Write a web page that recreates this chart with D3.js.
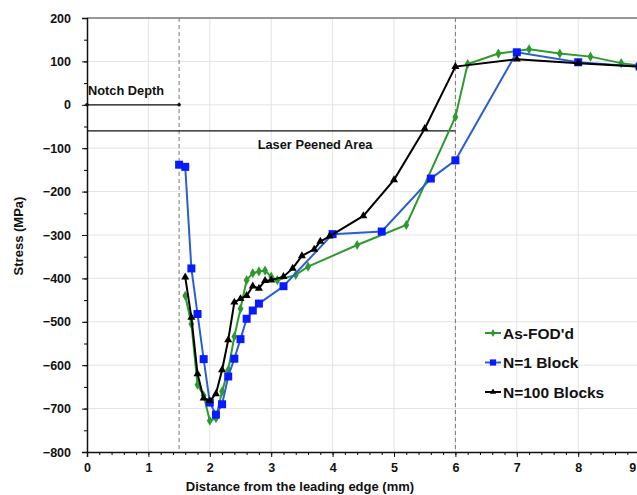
<!DOCTYPE html>
<html>
<head>
<meta charset="utf-8">
<script src="https://cdn.jsdelivr.net/npm/d3@7"></script>
<style>
  body { margin: 0; background: #fff; }
  svg { font-family: "Liberation Sans", Arial, sans-serif; }
</style>
</head>
<body>
<svg id="chart" width="637" height="495"></svg>
<script>
// data
var asFodX = [1.6, 1.7, 1.8, 1.9, 2.0, 2.1, 2.2, 2.3, 2.4, 2.5, 2.6, 2.7, 2.8, 2.9, 3.0, 3.1, 3.4, 3.6, 4.4, 5.2, 6.0, 6.2, 6.7, 7.2, 7.7, 8.2, 8.7, 9.0];
var asFodY = [-440, -505, -645, -670, -728, -722, -660, -611, -534, -470, -404, -388, -384, -382, -396, -404, -392, -373, -323, -277, -28, 94, 118, 128, 118, 111, 96, 90];

var n1X = [1.5, 1.6, 1.7, 1.8, 1.9, 2.0, 2.1, 2.2, 2.3, 2.4, 2.5, 2.6, 2.7, 2.8, 3.2, 4.0, 4.8, 5.6, 6.0, 7.0, 8.0, 9.0];
var n1Y = [-138, -143, -377, -482, -586, -686, -714, -690, -626, -585, -540, -493, -474, -458, -418, -298, -292, -170, -128, 121, 98, 88];

var n100X = [1.6, 1.7, 1.8, 1.9, 2.0, 2.1, 2.2, 2.3, 2.4, 2.5, 2.6, 2.7, 2.8, 2.9, 3.0, 3.2, 3.35, 3.5, 3.7, 3.8, 3.95, 4.5, 5.0, 5.5, 6.0, 7.0, 8.0, 9.0];
var n100Y = [-397, -490, -620, -676, -682, -666, -611, -542, -455, -447, -440, -418, -423, -405, -404, -396, -377, -348, -333, -315, -303, -256, -173, -55, 88, 105, 96, 88];

var xTicks = [0, 1, 2, 3, 4, 5, 6, 7, 8, 9];
var yTicks = [-800, -700, -600, -500, -400, -300, -200, -100, 0, 100, 200];

var svg = d3.select("#chart"),
    margin = {top: 18, left: 87},
    width = 552.6,
    height = 434,
    g = svg.append("g").attr("transform", "translate(" + margin.left + "," + margin.top + ")");

var x = d3.scaleLinear().domain([0, 9]).range([0, width]),
    y = d3.scaleLinear().domain([-800, 200]).range([height, 0]);

// grid
g.append("g").selectAll("line.gx")
    .data(xTicks.slice(1))
  .enter().append("line")
    .attr("x1", d => x(d)).attr("x2", d => x(d))
    .attr("y1", 0).attr("y2", height)
    .attr("stroke", "#e3e3e3");
g.append("g").selectAll("line.gy")
    .data(yTicks.slice(1, -1))
  .enter().append("line")
    .attr("x1", 0).attr("x2", width)
    .attr("y1", d => y(d)).attr("y2", d => y(d))
    .attr("stroke", "#e3e3e3");

// top border
g.append("line")
    .attr("x1", 0).attr("x2", width)
    .attr("y1", 0).attr("y2", 0)
    .attr("stroke", "#333").attr("stroke-width", 1.2);

// dashed verticals at notch depth and peened area edge
[1.5, 6].forEach(function(v) {
  g.append("line")
      .attr("x1", x(v)).attr("x2", x(v))
      .attr("y1", 0).attr("y2", height)
      .attr("stroke", "#777")
      .attr("stroke-dasharray", "4,3");
});

// minor ticks
g.append("g")
    .attr("transform", "translate(0," + height + ")")
    .call(d3.axisBottom(x).ticks(45).tickSize(3).tickFormat(""))
    .call(s => s.select(".domain").remove());
g.append("g")
    .call(d3.axisLeft(y).ticks(20).tickSize(3).tickFormat(""))
    .call(s => s.select(".domain").remove());

// axes
var xAxis = g.append("g")
    .attr("transform", "translate(0," + height + ")")
    .call(d3.axisBottom(x).tickValues(xTicks).tickSize(5).tickPadding(6).tickFormat(d3.format("d")));
var yAxis = g.append("g")
    .call(d3.axisLeft(y).tickValues(yTicks).tickSize(5).tickPadding(11));

[xAxis, yAxis].forEach(function(a) {
  a.selectAll("text")
      .style("font-size", "12.5px")
      .style("font-weight", "bold")
      .attr("fill", "#111");
  a.select(".domain").attr("stroke", "#111").attr("stroke-width", 1.5);
  a.selectAll(".tick line").attr("stroke", "#111");
});
// last label sits at the right edge, nudge it inside
xAxis.selectAll(".tick").filter(d => d === 9).select("text")
    .attr("text-anchor", "end").attr("dx", "-4px");

// axis titles
svg.append("text")
    .attr("x", 300).attr("y", 491)
    .attr("text-anchor", "middle")
    .style("font-size", "13px").style("font-weight", "bold")
    .attr("fill", "#111")
    .text("Distance from the leading edge (mm)");
svg.append("text")
    .attr("transform", "translate(23,236) rotate(-90)")
    .attr("text-anchor", "middle")
    .style("font-size", "13px").style("font-weight", "bold")
    .attr("fill", "#111")
    .text("Stress (MPa)");

// annotation lines
g.append("line")
    .attr("x1", x(0)).attr("x2", x(1.5))
    .attr("y1", y(0)).attr("y2", y(0))
    .attr("stroke", "#111").attr("stroke-width", 1.3);
g.selectAll("circle.nd").data([0, 1.5]).enter().append("circle")
    .attr("cx", d => x(d)).attr("cy", y(0)).attr("r", 1.8).attr("fill", "#111");
g.append("text")
    .attr("x", x(0) + 1).attr("y", y(0) - 10)
    .style("font-size", "12.8px").style("font-weight", "bold")
    .attr("fill", "#111")
    .text("Notch Depth");

g.append("line")
    .attr("x1", x(0)).attr("x2", x(6))
    .attr("y1", y(-60)).attr("y2", y(-60))
    .attr("stroke", "#111").attr("stroke-width", 1.3);
g.append("text")
    .attr("x", x(2.78)).attr("y", y(-60) + 18)
    .style("font-size", "12.8px").style("font-weight", "bold")
    .attr("fill", "#111")
    .text("Laser Peened Area");

// series
var series = [
  {name: "As-FOD'd", xs: asFodX, ys: asFodY, line: "#2e9a2e", fill: "#2e9a2e", shape: d3.symbolDiamond, size: 30},
  {name: "N=1 Block", xs: n1X, ys: n1Y, line: "#2b5fd0", fill: "#0a1aff", shape: d3.symbolSquare, size: 64},
  {name: "N=100 Blocks", xs: n100X, ys: n100Y, line: "#000", fill: "#000", shape: d3.symbolTriangle, size: 28}
];

var line = d3.line().x(d => x(d[0])).y(d => y(d[1]));

series.forEach(function(s) {
  var pts = d3.zip(s.xs, s.ys);
  g.append("path")
      .datum(pts)
      .attr("fill", "none")
      .attr("stroke", s.line)
      .attr("stroke-width", 2)
      .attr("d", line);
  g.selectAll(null)
      .data(pts)
    .enter().append("path")
      .attr("transform", d => "translate(" + x(d[0]) + "," + y(d[1]) + ")")
      .attr("d", d3.symbol().type(s.shape).size(s.size))
      .attr("fill", s.fill);
});

// legend
var legend = svg.append("g").attr("transform", "translate(485,333)");
series.forEach(function(s, i) {
  var row = legend.append("g").attr("transform", "translate(0," + (i * 29.5) + ")");
  row.append("line")
      .attr("x1", 0).attr("x2", 16)
      .attr("stroke", s.line).attr("stroke-width", 2);
  row.append("path")
      .attr("transform", "translate(8,0)")
      .attr("d", d3.symbol().type(s.shape).size(s.size * 0.6))
      .attr("fill", s.fill);
  row.append("text")
      .attr("x", 18).attr("y", 5.5)
      .style("font-size", "15.5px").style("font-weight", "bold")
      .attr("fill", "#111")
      .text(s.name);
});
</script>
</body>
</html>
